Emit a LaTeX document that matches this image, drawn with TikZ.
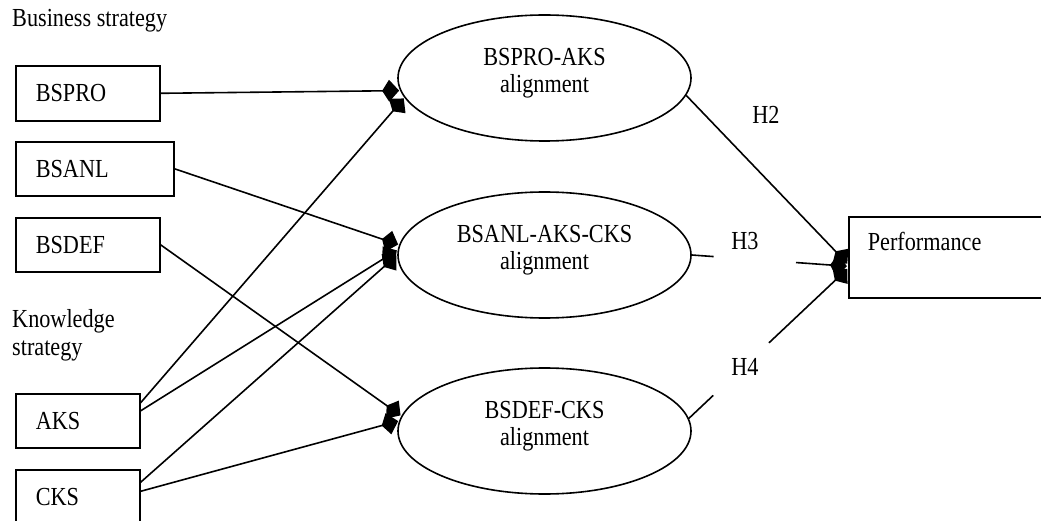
\documentclass[tikz,border=0pt]{standalone}
\usepackage{fontspec}
\setmainfont{Liberation Serif}
\usepackage{graphicx}
\usetikzlibrary{arrows.meta,calc,shapes.geometric}
% condensed text, as set in the model figure
\newcommand{\nrw}[1]{\scalebox{0.855}[1]{#1}}
\newcommand{\twolines}[2]{\raisebox{4pt}[\height][\depth]{\begin{tabular}{@{}c@{}}\nrw{#1}\\\nrw{#2}\end{tabular}}}
\begin{document}
\begin{tikzpicture}[x=1pt,y=-1pt,
  every node/.style={font=\fontsize{26}{27}\selectfont, inner sep=0pt},
  conn/.style={line width=1.6pt},
  arr/.style={conn, shorten >=1pt, -{Kite[length=17pt,width=22pt,inset=7pt]}},
  factor/.style={draw, line width=1.6pt, anchor=north west, align=left,
                 inner xsep=20pt, inner ysep=0pt, minimum height=54pt},
  construct/.style={draw, ellipse, line width=1.6pt,
                    minimum width=293pt, minimum height=126pt, inner sep=0pt}
]
\clip (0,0) rectangle (1041,521);

% group headings
\node[anchor=base west] (bshead) at (12,27) {\nrw{Business strategy}};
\node[anchor=north west, align=left, font=\fontsize{26}{28.5}\selectfont]
  (kshead) at (12,309) {\nrw{Knowledge}\\\nrw{strategy}};

% strategy dimensions
\node[factor, text width=104pt, minimum height=55pt] (bspro) at (15,65)  {\nrw{BSPRO}};
\node[factor, text width=118pt] (bsanl) at (15,141) {\nrw{BSANL}};
\node[factor, text width=104pt] (bsdef) at (15,217) {\nrw{BSDEF}};
\node[factor, text width=84pt]  (aks)   at (15,393) {\nrw{AKS}};
\node[factor, text width=84pt]  (cks)   at (15,469) {\nrw{CKS}};

% alignment constructs
\node[construct] (e1) at (544.5,78)  {\twolines{BSPRO-AKS}{alignment}};
\node[construct] (e2) at (544.5,255) {\twolines{BSANL-AKS-CKS}{alignment}};
\node[construct] (e3) at (544.5,431) {\twolines{BSDEF-CKS}{alignment}};

% outcome
\node[factor, text width=174pt, minimum height=81pt, inner xsep=19pt]
  (perf) at (848,216) {\raisebox{16pt}[\height][\depth]{\nrw{Performance}}};

% hypothesis labels
\node (h2) at (766,115) {\nrw{H2}};
\node (h3) at (745,241) {\nrw{H3}};
\node (h4) at (745,367) {\nrw{H4}};

% inputs to the alignment constructs
\draw[arr] (bspro.east) -- (e1.185);
\draw[arr] (aks.16)     -- (e1.188);
\draw[arr] (bsanl.east) -- (e2.176);
\draw[arr] (aks.9)      -- (e2.178);
\draw[arr] (cks.13)     -- (e2.180);
\draw[arr] (bsdef.east) -- (e3.174);
\draw[arr] (cks.5)      -- (e3.176);

% hypothesised paths to performance
\coordinate (t2) at ($(perf.west)+(0,7)$);
\coordinate (t3) at ($(perf.west)+(0,9)$);
\coordinate (t4) at ($(perf.west)+(0,11)$);
\draw[arr] (e1.353) -- (t2);
\draw[conn] (e2.east) -- ($(e2.east)!0.14!(t3)$);
\draw[arr] ($(e2.east)!0.667!(t3)$) -- (t3);
\draw[conn] (e3.5) -- ($(e3.5)!0.153!(t4)$);
\draw[arr] ($(e3.5)!0.503!(t4)$) -- (t4);
\end{tikzpicture}
\end{document}
